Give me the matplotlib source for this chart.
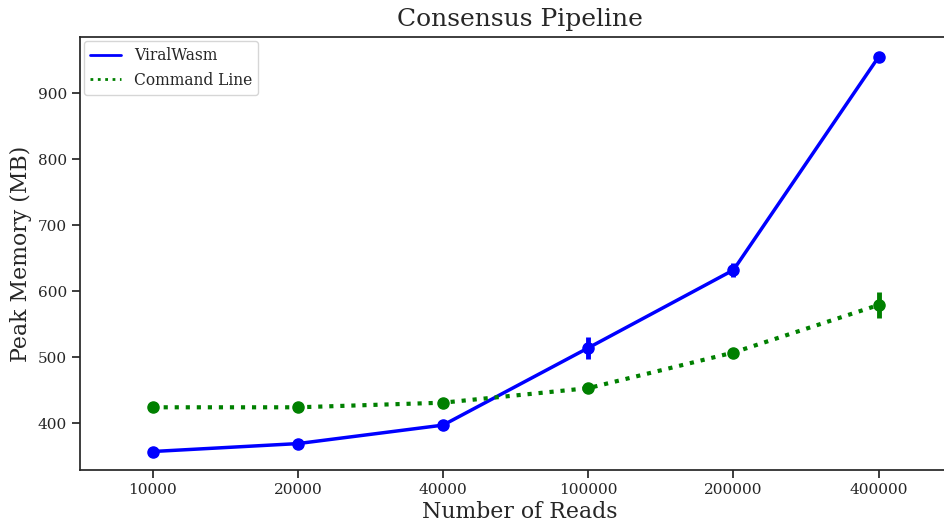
import numpy as np
import matplotlib
matplotlib.use("Agg")
import matplotlib.pyplot as plt
import seaborn as sns

reads = ["10000", "20000", "40000", "100000", "200000", "400000"]

viralwasm_mem = [357, 369, 397, 514, 632, 955]
viralwasm_err = [3, 3, 3, 17, 11, 4]

cmdline_mem = [424, 424, 431, 453, 507, 579]
cmdline_err = [3, 3, 3, 3, 4, 20]

sns.set_style("ticks")
plt.rcParams['font.family'] = ['DejaVu Serif']

fig = plt.figure(figsize=(9.45, 5.26), dpi=100)
# right spine sits past the image edge in the reference
ax = fig.add_axes([80 / 945, 56 / 526, 880 / 945, 433 / 526])

x = np.arange(len(reads))

ax.errorbar(x, viralwasm_mem, yerr=viralwasm_err, color='blue', linestyle='-',
            linewidth=2.5, marker='o', markersize=8, elinewidth=3.5, capsize=0,
            label="ViralWasm")
ax.errorbar(x, cmdline_mem, yerr=cmdline_err, color='green', linestyle=':',
            linewidth=3, marker='o', markersize=8, elinewidth=3.5, capsize=0,
            label="Command Line")

ax.set_xticks(x)
ax.set_xticklabels(reads)
ax.set_xlim(-0.5, 5.56)
ax.set_ylim(329, 985)
ax.set_yticks([400, 500, 600, 700, 800, 900])

ax.tick_params(axis='both', labelsize=11, length=6, width=1.25)
for s in ax.spines.values():
    s.set_linewidth(1.25)
ax.spines['right'].set_visible(False)

ax.set_title("Consensus Pipeline", fontsize=18, pad=8)
ax.set_xlabel("Number of Reads", fontsize=15.8, labelpad=3)
ax.set_ylabel("Peak Memory (MB)", fontsize=15.8)

handles = [plt.Line2D([], [], color='blue', linestyle='-', linewidth=2),
           plt.Line2D([], [], color='green', linestyle=':', linewidth=2)]
ax.legend(handles, ["ViralWasm", "Command Line"], loc='upper left', fontsize=11.2,
          borderaxespad=0.25)

fig.savefig("out.png", dpi=100)
